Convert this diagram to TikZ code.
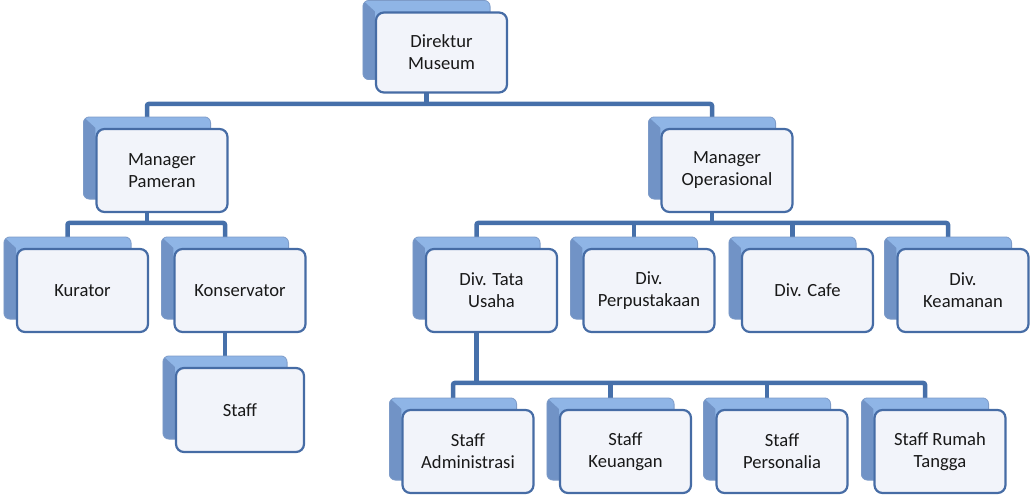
\documentclass[tikz,border=0pt]{standalone}
\usepackage{fontspec}
\setmainfont{Carlito}
\usetikzlibrary{calc}
\definecolor{conncol}{RGB}{70,112,170}
\definecolor{bordercol}{RGB}{70,108,165}
\definecolor{frontfill}{RGB}{242,244,250}
\definecolor{backtop}{RGB}{143,181,230}
\definecolor{backside}{RGB}{113,147,198}
\definecolor{backedge}{RGB}{125,155,200}
\definecolor{txtcol}{RGB}{25,25,25}
\pgfdeclarelayer{lines}
\pgfdeclarelayer{backbox}
\pgfsetlayers{lines,backbox,main}
\newcommand\orgback[1]{%
  \begin{scope}
    \clip[rounded corners=6pt] ($(#1.north west)+(-12,-11)$) rectangle ($(#1.south east)+(-18,-14)$);
    \fill[backtop] ($(#1.north west)+(-12,-11)$) rectangle ($(#1.south east)+(-18,-14)$);
    \fill[backside] ($(#1.north west)+(-12,-11)$) -- ($(#1.north west)+(0,0)$) -- ($(#1.south west)+(0,-14)$) -- ($(#1.south west)+(-12,-14)$) -- cycle;
  \end{scope}
  \draw[backedge, line width=0.8pt, rounded corners=6pt] ($(#1.north west)+(-12,-11)$) rectangle ($(#1.south east)+(-18,-14)$);
}
\begin{document}
\begin{tikzpicture}[x=1pt,y=-1pt,
  front/.style={draw=bordercol, line width=2.2pt, rounded corners=8pt, fill=frontfill,
    minimum width=131pt, minimum height=83pt, inner sep=0pt, align=center,
    text=txtcol, font=\fontsize{18.6}{22}\selectfont},
  conn/.style={draw=conncol, line width=4.5pt, rounded corners=2pt}]
\useasboundingbox (0,0) rectangle (1031,495);

\node[front, minimum height=80pt] (dir) at (441.5,52.5) {Direktur\\Museum};
\node[front] (mp) at (162,170.5) {Manager\\Pameran};
\node[front] (mo) at (727,170.5) {Manager\\Operasional};
\node[front] (kur) at (82.5,290.5) {Kurator};
\node[front] (kon) at (240,290.5) {Konservator};
\node[front, minimum width=128pt, minimum height=84pt] (stf) at (240,410) {Staff};
\node[front] (dtu) at (491.5,290.5) {Div. Tata\\Usaha};
\node[front] (dp) at (649,290.5) {Div.\\Perpustakaan};
\node[front] (dc) at (807.5,290.5) {Div. Cafe};
\node[front] (dk) at (963,290.5) {Div.\\Keamanan};
\node[front] (sa) at (468,451.5) {Staff\\Administrasi};
\node[front] (sk) at (625.5,451.5) {Staff\\Keuangan};
\node[front] (sp) at (782,451.5) {Staff\\Personalia};
\node[front] (sr) at (940,451.5) {Staff Rumah\\Tangga};

\begin{pgfonlayer}{backbox}
  \foreach \n in {dir,mp,mo,kur,kon,stf,dtu,dp,dc,dk,sa,sk,sp,sr}{\orgback{\n}}
\end{pgfonlayer}

\begin{pgfonlayer}{lines}
  % Direktur to managers
  \draw[conn] ($(dir.south)+(-15,-2)$) -- ($(dir.south)+(-15,12.5)$);
  \draw[conn] ($(mp.north)+(-15,-6)$) -- ($(mp.north)+(-15,-24)$) -- ($(mo.north)+(-15,-24)$) -- ($(mo.north)+(-15,-6)$);
  % Manager Pameran
  \draw[conn] ($(mp.south)+(-15,-2)$) -- ($(mp.south)+(-15,12)$);
  \draw[conn] ($(kur.north)+(-15,-6)$) -- ($(kur.north)+(-15,-25)$) -- ($(kon.north)+(-15,-25)$) -- ($(kon.north)+(-15,-6)$);
  \draw[conn] ($(kon.south)+(-15,-2)$) -- ($(stf.north)+(-15,-6)$);
  % Manager Operasional
  \draw[conn] ($(mo.south)+(-15,-2)$) -- ($(mo.south)+(-15,12)$);
  \draw[conn] ($(dtu.north)+(-15,-6)$) -- ($(dtu.north)+(-15,-25)$) -- ($(dk.north)+(-15,-25)$) -- ($(dk.north)+(-15,-6)$);
  \draw[conn] ($(dp.north)+(-15,-6)$) -- ($(dp.north)+(-15,-25)$);
  \draw[conn] ($(dc.north)+(-15,-6)$) -- ($(dc.north)+(-15,-25)$);
  % Div. Tata Usaha
  \draw[conn] ($(dtu.south)+(-15,-2)$) -- ($(dtu.south)+(-15,52)$);
  \draw[conn] ($(sa.north)+(-15,-6)$) -- ($(sa.north)+(-15,-26)$) -- ($(sr.north)+(-15,-26)$) -- ($(sr.north)+(-15,-6)$);
  \draw[conn] ($(sk.north)+(-15,-6)$) -- ($(sk.north)+(-15,-26)$);
  \draw[conn] ($(sp.north)+(-15,-6)$) -- ($(sp.north)+(-15,-26)$);
\end{pgfonlayer}
\end{tikzpicture}
\end{document}
